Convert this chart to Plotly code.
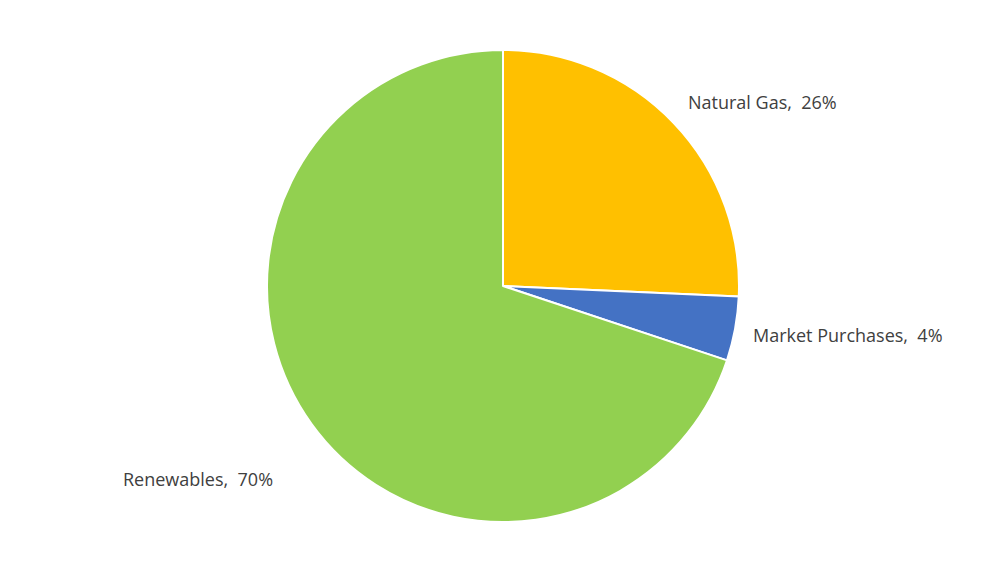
import plotly.graph_objects as go

labels = ["Natural Gas", "Market Purchases", "Renewables"]
values = [25.7, 4.4, 69.9]
colors = ["#FFC000", "#4472C4", "#92D050"]

W, H = 1007, 573
OFF = 8  # page body margin offset
cx, cy, r = 503 - OFF, 286 - OFF, 236

total = sum(values)
label_texts = [f"{l},\u00a0 {round(100 * v / total)}%" for l, v in zip(labels, values)]
# label anchor positions (pixels, left edge / vertical middle), as in the reference
label_pos = [(688, 102), (753, 335), (123, 479)]

fig = go.Figure(go.Pie(
    labels=labels,
    values=values,
    sort=False,
    direction="clockwise",
    rotation=0,
    marker=dict(colors=colors, line=dict(color="white", width=2)),
    textinfo="none",
    showlegend=False,
    hoverinfo="label+percent",
    domain=dict(x=[(cx - r) / W, (cx + r) / W], y=[1 - (cy + r) / H, 1 - (cy - r) / H]),
))

for txt, (px, py) in zip(label_texts, label_pos):
    fig.add_annotation(
        x=(px - OFF - 2) / W, y=1 - (py - OFF) / H, xref="paper", yref="paper",
        xanchor="left", yanchor="middle", showarrow=False,
        text=txt,
        font=dict(family="Open Sans, Noto Sans, sans-serif", size=18, color="#404040"),
    )

fig.update_layout(
    width=W, height=H,
    margin=dict(l=0, r=0, t=0, b=0),
    paper_bgcolor="white",
    plot_bgcolor="white",
)
fig.write_html("out.html")
